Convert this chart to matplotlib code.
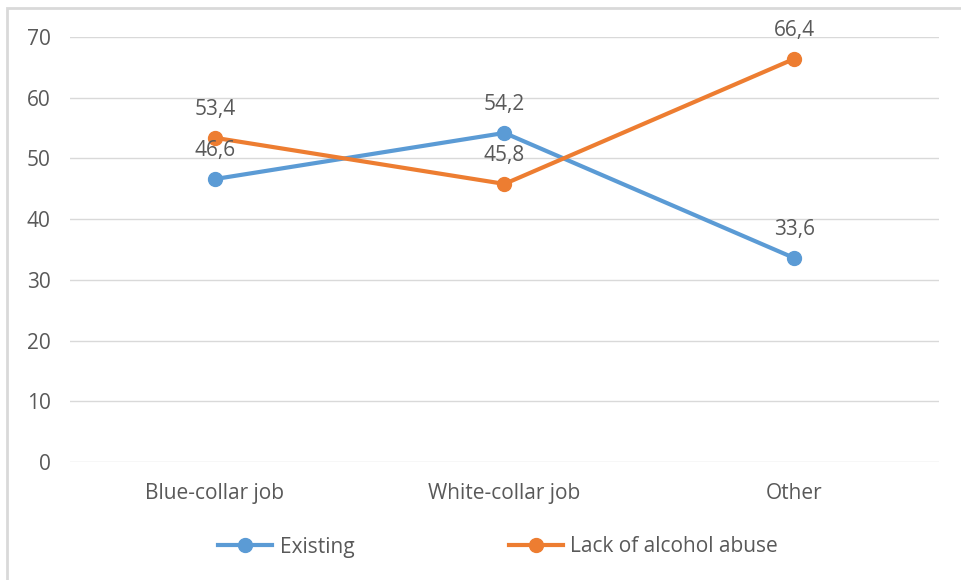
import matplotlib.pyplot as plt
from matplotlib.patches import Rectangle

categories = ['Blue-collar job', 'White-collar job', 'Other']
existing = [46.6, 54.2, 33.6]
lack_abuse = [53.4, 45.8, 66.4]
yticks = [0, 10, 20, 30, 40, 50, 60, 70]

blue = '#5B9BD5'
orange = '#ED7D31'
text_col = '#595959'

plt.rcParams['font.family'] = ['Open Sans', 'DejaVu Sans']
fs = 15

fig = plt.figure(figsize=(9.61, 5.8), dpi=100)
ax = fig.add_axes([70 / 961, 1 - 462 / 580, 869 / 961, 425 / 580])

# light chart border like Excel
fig.patches.append(Rectangle((7 / 961, -0.1), 1.2, 1 - 8 / 580 + 0.1,
                             transform=fig.transFigure, fill=False,
                             edgecolor='#D9D9D9', linewidth=2))

x = list(range(len(categories)))
ax.plot(x, existing, color=blue, lw=3, marker='o', ms=10, label='Existing', zorder=3)
ax.plot(x, lack_abuse, color=orange, lw=3, marker='o', ms=10, label='Lack of alcohol abuse', zorder=3)

for xi, v in zip(x, existing):
    ax.annotate(f'{v:.1f}'.replace('.', ','), (xi, v), xytext=(0, 13), textcoords='offset points',
                ha='center', va='bottom', fontsize=fs, color=text_col)
for xi, v in zip(x, lack_abuse):
    ax.annotate(f'{v:.1f}'.replace('.', ','), (xi, v), xytext=(0, 13), textcoords='offset points',
                ha='center', va='bottom', fontsize=fs, color=text_col)

ax.set_xlim(-0.5, 2.5)
ax.set_ylim(0, 70)
ax.set_yticks(yticks)
ax.set_xticks(x)
ax.set_xticklabels(categories)
ax.tick_params(axis='both', length=0, labelsize=fs, labelcolor=text_col)
ax.tick_params(axis='y', pad=14)
ax.tick_params(axis='x', pad=15)
ax.grid(axis='y', color='#D9D9D9', lw=1)
ax.set_axisbelow(True)
for s in ax.spines.values():
    s.set_visible(False)

leg = fig.legend(loc='center', bbox_to_anchor=(498 / 961, 1 - 547 / 580), ncol=2, frameon=False,
                 fontsize=fs, handlelength=2.6, columnspacing=7.4, handletextpad=0.35)
for t in leg.get_texts():
    t.set_color(text_col)

fig.savefig('out.png', dpi=100)
